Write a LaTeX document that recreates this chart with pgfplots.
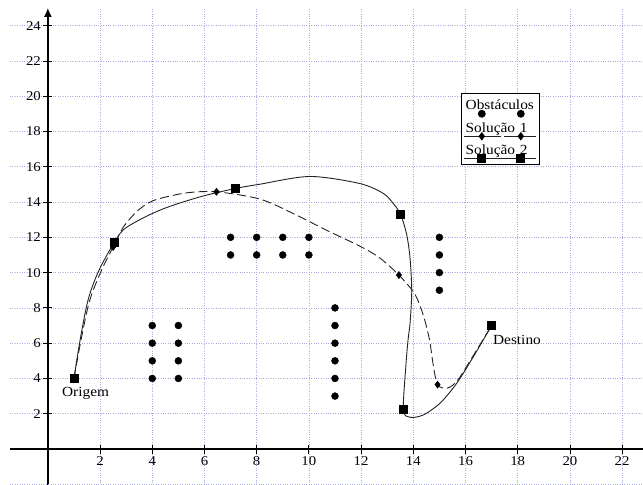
\documentclass[border=0pt]{standalone}
\usepackage{fontspec}
\setmainfont{Liberation Serif}[FakeStretch=1.1]
\usepackage{pgfplots}
\pgfplotsset{compat=1.18}
\usetikzlibrary{arrows.meta}
\definecolor{gridc}{RGB}{170,170,225}
\definecolor{curvec}{RGB}{35,35,35}
\pgfplotsset{
  obsimg/.style={legend image code/.code={\path (0,0);
    \draw[overlay,##1] plot coordinates {(18bp,-4bp) (57bp,-4bp)};}},
  solaimg/.style={legend image code/.code={\path (0,0);
    \draw[overlay,solid,curvec,line width=0.9bp] (0bp,-4bp) -- (37bp,-4bp) (40bp,-4bp) -- (72bp,-4bp);
    \path[overlay,##1] plot[only marks] coordinates {(18bp,-4bp) (57bp,-4bp)};}},
  solbimg/.style={legend image code/.code={\path (0,0);
    \draw[overlay,solid,curvec,line width=0.9bp] (0bp,-4bp) -- (72bp,-4bp);
    \path[overlay,##1] plot[only marks] coordinates {(18bp,-4bp) (57bp,-4bp)};}},
}
\begin{document}
\begin{tikzpicture}
\useasboundingbox (0,0) rectangle (643bp,485bp);
\begin{axis}[
  at={(10bp,0bp)}, anchor=south west,
  scale only axis, width=633bp, height=477bp,
  xmin=-1.45, xmax=22.8, ymin=-2.04, ymax=25.0,
  axis lines=middle,
  axis line style={line width=1.3bp, black},
  x axis line style={-},
  y axis line style={-{Latex[length=9bp,width=8bp]}},
  xtick={2,4,...,22}, ytick={2,4,...,24},
  extra y ticks={-2}, extra y tick labels={},
  extra y tick style={major tick length=0pt, grid=major},
  grid=major, grid style={gridc, dotted, line width=0.7bp},
  tick align=center, major tick length=9bp,
  tick style={black, line width=0.8bp},
  ticklabel style={font=\fontsize{13.5}{15}\selectfont},
  yticklabel style={xshift=1bp},
  /pgf/number format/assume math mode=true,
  clip=false,
  legend style={at={(0.7125,0.822)}, anchor=north west, draw=black,
    line width=0.8bp, inner sep=2bp, font=\fontsize{14}{16}\selectfont,
    cells={anchor=base west},
    nodes={inner sep=1.5bp, text height=13bp, text depth=6.5bp,
      text width=70bp, align=left}},
]
% obstacles
\addplot[only marks, mark=*, mark size=3.5bp, black, obsimg]
  coordinates {
  (4,4)(4,5)(4,6)(4,7)(5,4)(5,5)(5,6)(5,7)
  (7,11)(7,12)(8,11)(8,12)(9,11)(9,12)(10,11)(10,12)
  (11,3)(11,4)(11,5)(11,6)(11,7)(11,8)
  (15,9)(15,10)(15,11)(15,12)};
\addlegendentry{Obstáculos}
% solution 1 path (traced)
\addplot[smooth, curvec, line width=0.9bp, dash pattern=on 9bp off 4bp, no marks, forget plot]
  coordinates {
  (1.0,4.0)(1.28,6.25)(1.6,8.4)(2.03,10.05)(2.5,11.45)(2.9,12.6)(3.4,13.45)
  (3.85,13.95)(4.29,14.2)(5.31,14.52)(6.46,14.58)(8.12,14.17)(9.4,13.35)
  (10.68,12.4)(11.95,11.5)(12.7,10.85)(13.45,9.86)(14.05,8.8)(14.38,7.6)
  (14.62,6.2)(14.76,4.8)(14.93,3.65)(15.3,3.45)(15.7,3.9)(16.3,5.3)(17.0,7.0)};
% solution 2 path (traced)
\addplot[smooth, curvec, line width=0.9bp, no marks, forget plot]
  coordinates {
  (1.0,4.0)(1.25,6.3)(1.55,8.5)(1.95,10.1)(2.54,11.7)(3.0,12.55)(4.29,13.54)
  (5.82,14.29)(7.19,14.77)(8.12,15.01)(10.04,15.45)(11.95,15.05)(12.85,14.49)
  (13.23,13.92)(13.51,13.31)(13.74,12.2)(13.87,10.9)(13.94,9.0)(13.88,7.2)
  (13.8,6.2)(13.72,4.8)(13.62,2.23)(13.87,1.8)(14.38,1.93)(15.02,2.59)
  (15.66,3.72)(16.3,5.23)(17.0,7.0)};
% solution 1 marks
\addplot[only marks, mark=diamond*, mark size=3.6bp, black, mark options={solid, fill=black, draw=black}, solaimg]
  coordinates {
  (1,4)(2.5,11.45)(6.46,14.58)(13.45,9.86)(14.93,3.65)(17,7)};
\addlegendentry{Solução 1}
% solution 2 marks
\addplot[only marks, mark=square*, mark size=4bp, black, mark options={solid, fill=black, draw=black}, solbimg]
  coordinates {
  (1,4)(2.54,11.7)(7.19,14.77)(13.51,13.31)(13.62,2.23)(17.0,7.0)};
\addlegendentry{Solução 2}
\node[anchor=base west, inner sep=0pt, font=\fontsize{14}{16}\selectfont] at (axis cs:0.54,3.0) {Origem};
\node[anchor=base west, inner sep=0pt, font=\fontsize{14}{16}\selectfont] at (axis cs:17.05,5.9) {Destino};
\end{axis}
\end{tikzpicture}
\end{document}
